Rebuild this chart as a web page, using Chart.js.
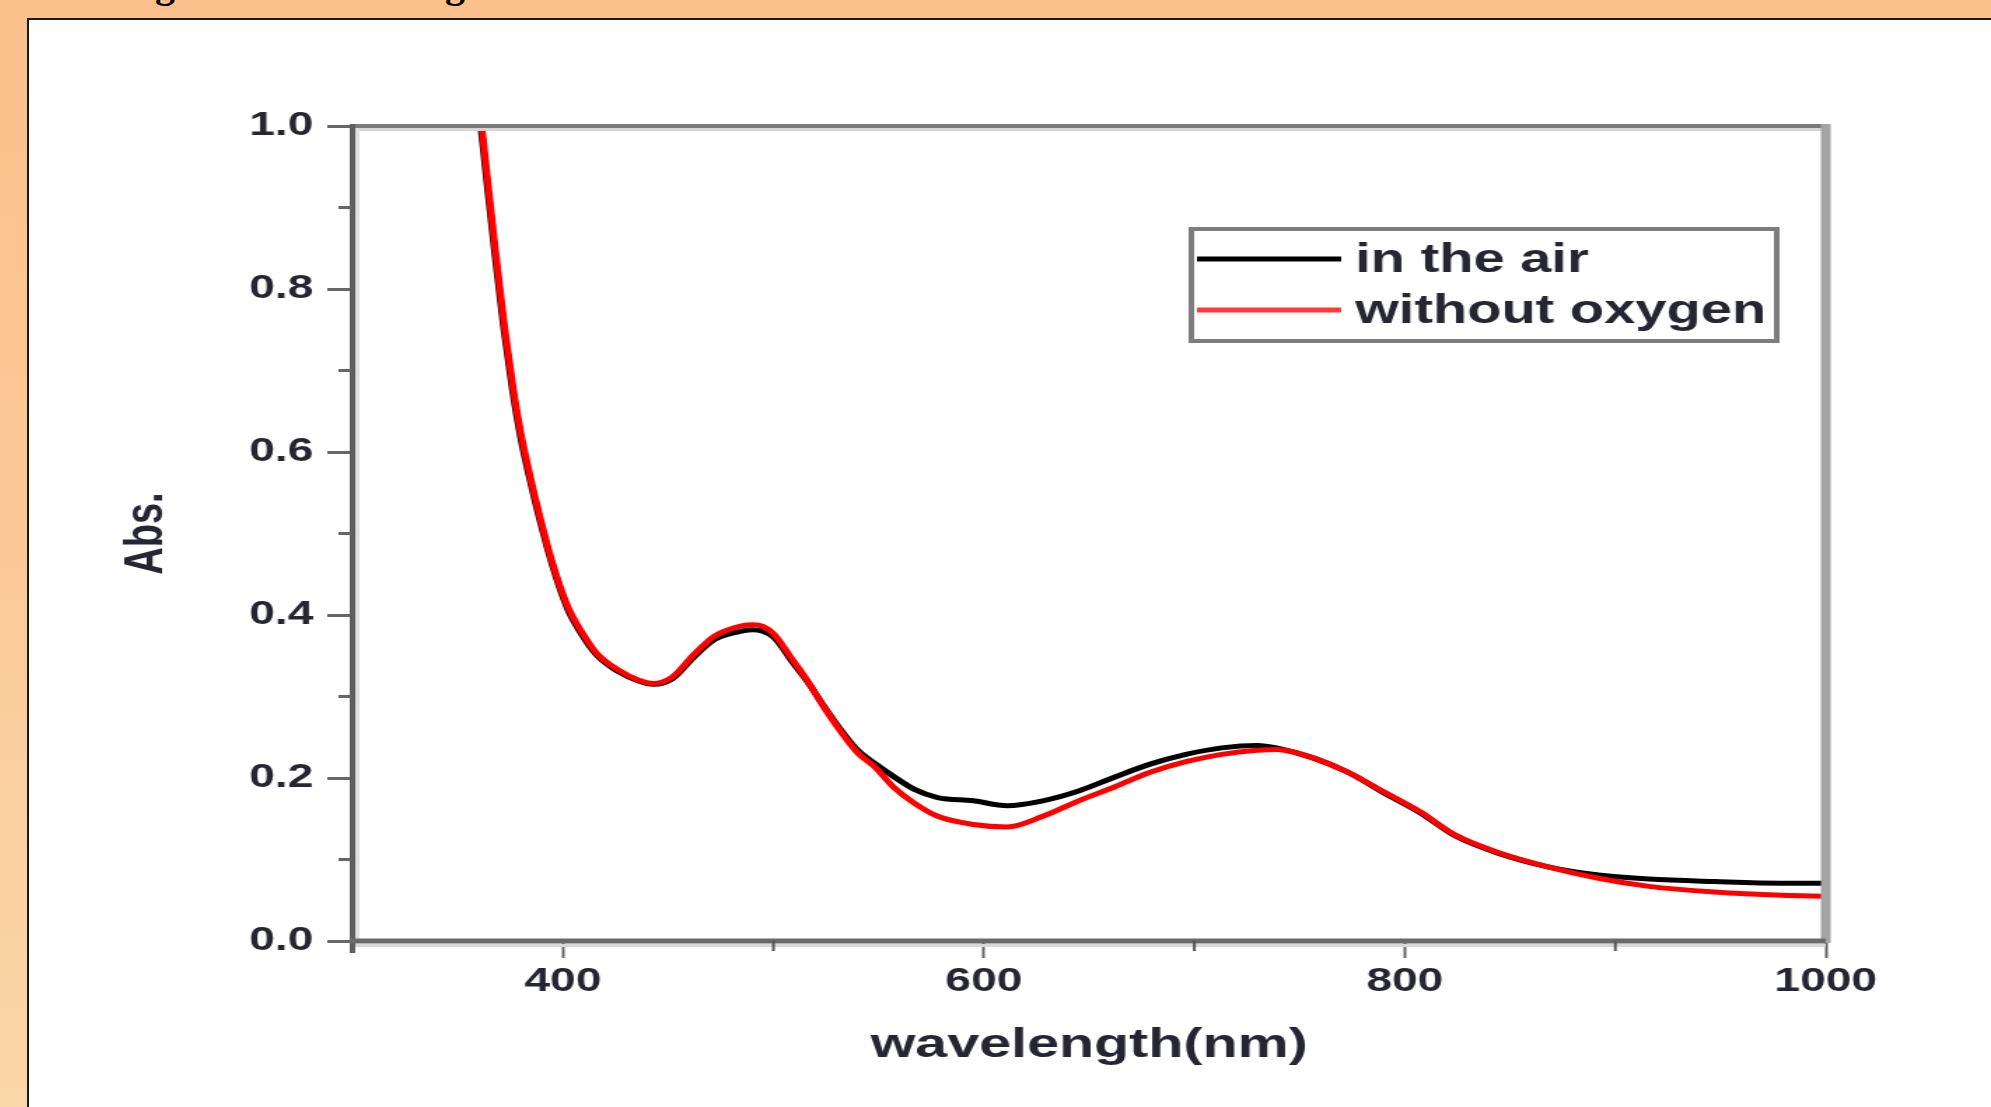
<!DOCTYPE html>
<html>
<head>
<meta charset="utf-8">
<title>Abs. vs wavelength</title>
<script src="https://cdn.jsdelivr.net/npm/chart.js@4.4.1/dist/chart.umd.min.js"></script>
<style>
  html, body { margin: 0; padding: 0; }
  body {
    width: 1991px; height: 1107px; overflow: hidden; position: relative;
    background: linear-gradient(180deg, #fbc08b 0%, #fbc895 45%, #fad7a8 100%);
  }
  .heading {
    position: absolute; top: -36px;
    font: bold 40px "Liberation Serif", serif; line-height: 40px; color: #000;
  }
  #panel {
    position: absolute; left: 27px; top: 18px; right: 0; bottom: 0;
    background: #fff;
    border-left: 2px solid #1a1a1a; border-top: 2px solid #1a1a1a;
  }
  #chart { position: absolute; left: 0; top: 0; }
</style>
</head>
<body>
<span class="heading" style="left:155px">g</span>
<span class="heading" style="left:445px">g</span>
<div id="panel">
  <!-- the original figure is stretched sideways, so the canvas is too -->
  <canvas id="chart" width="1401" height="1087" style="width:1962px;height:1087px"></canvas>
</div>
<script>
// Data
const wavelength = [361, 364, 368, 372, 376, 380, 384, 389, 395, 402, 408, 416, 426, 436, 443, 452,
  462, 472, 481, 490, 495, 500, 504, 508, 516, 524, 532, 540, 548, 557, 567, 578, 595, 611, 628, 645,
  662, 679, 696, 713, 730, 739, 756, 773, 790, 807, 824, 844, 868, 892, 916, 947, 979, 1000];
const absInAir = [1.00, 0.928, 0.836, 0.750, 0.677, 0.617, 0.570, 0.517, 0.461, 0.409, 0.380, 0.351,
  0.331, 0.319, 0.315, 0.322, 0.348, 0.370, 0.378, 0.382, 0.380, 0.373, 0.361, 0.346, 0.319, 0.288,
  0.259, 0.234, 0.218, 0.202, 0.186, 0.176, 0.172, 0.166, 0.172, 0.184, 0.201, 0.217, 0.229, 0.237,
  0.240, 0.237, 0.225, 0.207, 0.182, 0.158, 0.129, 0.108, 0.091, 0.081, 0.076, 0.073, 0.071, 0.071];
const absNoOxygen = [1.01, 0.938, 0.845, 0.758, 0.684, 0.623, 0.575, 0.521, 0.464, 0.412, 0.383, 0.353,
  0.333, 0.320, 0.316, 0.324, 0.351, 0.374, 0.384, 0.388, 0.386, 0.377, 0.364, 0.349, 0.320, 0.287,
  0.257, 0.231, 0.214, 0.189, 0.169, 0.153, 0.143, 0.140, 0.153, 0.172, 0.189, 0.207, 0.220, 0.229,
  0.234, 0.235, 0.225, 0.207, 0.183, 0.159, 0.130, 0.109, 0.091, 0.077, 0.067, 0.060, 0.056, 0.055];

const seriesLabels = ["in the air", "without oxygen"];
const xTicks = [400, 600, 800, 1000];
const xMinorTicks = [500, 700, 900];
const yTicks = [0, 0.2, 0.4, 0.6, 0.8, 1.0];
const yMinorTicks = [0.1, 0.3, 0.5, 0.7, 0.9];

const FONT = "Liberation Sans";
const TEXT = "#262633";

function seg(ctx, x1, y1, x2, y2, color, w) {
  ctx.strokeStyle = color;
  ctx.lineWidth = w;
  ctx.beginPath();
  ctx.moveTo(x1, y1);
  ctx.lineTo(x2, y2);
  ctx.stroke();
}

// box frame, shadows and minor ticks
const framePlugin = {
  id: "frame",
  afterDatasetsDraw(chart) {
    const { ctx, chartArea: a, scales: { x, y } } = chart;
    ctx.save();
    seg(ctx, a.left, a.top + 3.5, a.right, a.top + 3.5, "#d6d6d6", 3);
    seg(ctx, a.left + 3.5, a.top, a.left + 3.5, a.bottom, "#e0e0e0", 3);
    seg(ctx, a.left, a.bottom + 4.5, a.right, a.bottom + 4.5, "#d8d8d8", 3);
    seg(ctx, a.left, a.top, a.right, a.top, "#7b7b7b", 4);
    seg(ctx, a.right, a.top - 2, a.right, a.bottom + 2, "#a3a3a3", 7);
    seg(ctx, a.left, a.top - 2, a.left, a.bottom + 12, "#5e5e5e", 4);
    seg(ctx, a.left - 2, a.bottom, a.right, a.bottom, "#6a6a6a", 5);
    yMinorTicks.forEach((v) => {
      const py = y.getPixelForValue(v);
      seg(ctx, a.left - 10, py, a.left, py, "#666", 3);
    });
    xMinorTicks.forEach((v) => {
      const px = x.getPixelForValue(v);
      seg(ctx, px, a.bottom, px, a.bottom + 10, "#555", 2);
    });
    ctx.restore();
  },
};

// legend inside a grey box, top right
const boxLegend = {
  id: "boxLegend",
  afterDraw(chart) {
    const { ctx } = chart;
    ctx.save();
    ctx.strokeStyle = "#7d7d7d";
    ctx.lineWidth = 4;
    ctx.strokeRect(830, 209, 418, 112);
    ctx.font = `bold 40px "${FONT}"`;
    ctx.textBaseline = "alphabetic";
    chart.data.datasets.forEach((ds, i) => {
      const ly = 239 + i * 51;
      seg(ctx, 834, ly, 937, ly, ds.legendColor, 5);
      ctx.fillStyle = TEXT;
      ctx.fillText(ds.label, 947, ly + 12.5);
    });
    ctx.restore();
  },
};

const ctx = document.getElementById("chart").getContext("2d");
const chart = new Chart(ctx, {
  type: "line",
  data: {
    datasets: [
      {
        label: seriesLabels[0],
        data: wavelength.map((w, i) => ({ x: w, y: absInAir[i] })),
        borderColor: "#000000",
        legendColor: "#000000",
        order: 1,
      },
      {
        label: seriesLabels[1],
        data: wavelength.map((w, i) => ({ x: w, y: absNoOxygen[i] })),
        borderColor: "#ff0000",
        legendColor: "#ff3b3b",
        order: 0,
      },
    ],
  },
  options: {
    responsive: false,
    animation: false,
    layout: { padding: { top: 106, right: 118, bottom: 0, left: 0 } },
    plugins: { legend: { display: false }, tooltip: { enabled: false } },
    elements: {
      point: { radius: 0 },
      line: { borderWidth: 5, cubicInterpolationMode: "monotone", fill: false },
    },
    scales: {
      x: {
        type: "linear",
        min: 300,
        max: 1000,
        afterBuildTicks: (s) => { s.ticks = xTicks.map((v) => ({ value: v })); },
        afterFit: (s) => { s.height = 166; },
        border: { display: false },
        grid: { drawOnChartArea: false, tickLength: 17, tickWidth: 2, tickColor: "#666" },
        ticks: {
          autoSkip: false, maxRotation: 0, padding: 4, color: TEXT,
          font: { family: FONT, size: 33, weight: "bold" },
          callback: (v) => String(v),
        },
        title: {
          display: true, text: "wavelength(nm)", color: TEXT,
          font: { family: FONT, size: 41, weight: "bold" },
          padding: { top: 0, bottom: 37 },
        },
      },
      y: {
        min: 0,
        max: 1,
        afterBuildTicks: (s) => { s.ticks = yTicks.map((v) => ({ value: v })); },
        afterFit: (s) => { s.width = 231; },
        border: { display: false },
        grid: { drawOnChartArea: false, tickLength: 18, tickWidth: 3, tickColor: "#666" },
        ticks: {
          padding: 10, color: TEXT,
          font: { family: FONT, size: 33, weight: "bold" },
          callback: (v) => v.toFixed(1),
        },
        title: {
          display: true, text: "Abs.", color: TEXT,
          font: { family: FONT, size: 38, weight: "bold" },
          padding: { top: 62, bottom: 0 },
        },
      },
    },
  },
  plugins: [framePlugin, boxLegend],
});
</script>
</body>
</html>
